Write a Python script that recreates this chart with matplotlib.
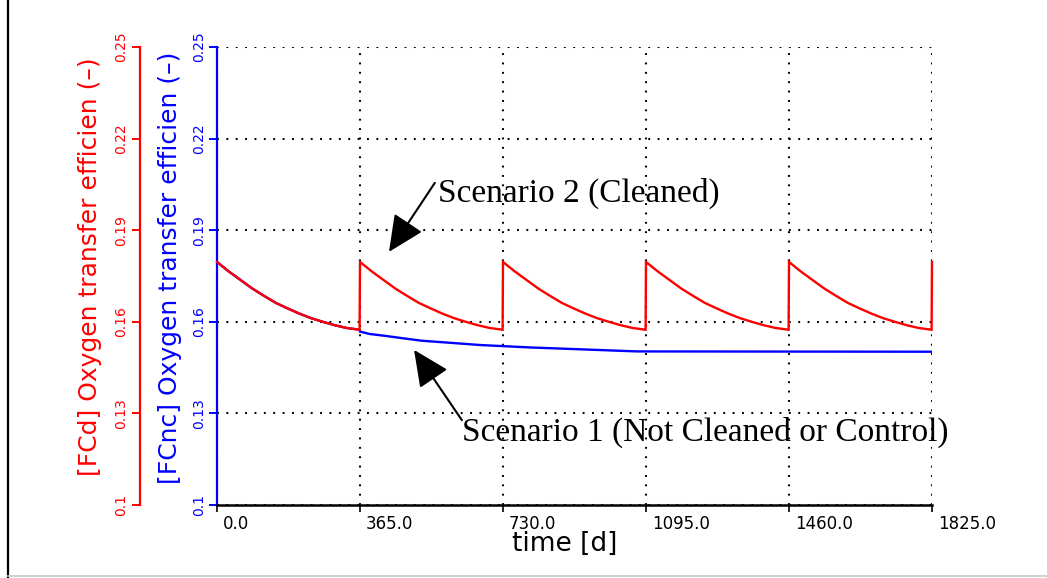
import matplotlib
matplotlib.use("Agg")
import matplotlib.pyplot as plt
from matplotlib.lines import Line2D
import matplotlib.transforms as mtransforms
import numpy as np

# ---------------- data ----------------
# one cleaning cycle of Scenario 2 (days after cleaning, efficiency)
cycle_offset_days = [0, 30, 60, 90, 120, 150, 180, 210, 240, 270, 300, 330, 364]
cycle_values = [0.1796, 0.1765, 0.1737, 0.1709, 0.1685, 0.1662, 0.1644,
                0.1627, 0.1612, 0.1600, 0.1589, 0.1580, 0.1574]
cleaning_days = [0, 365, 730, 1095, 1460]
final_day = 1825
final_value = 0.1796

# Scenario 1 after the first year (before that it coincides with Scenario 2)
control_days_after = [365, 390, 429, 475, 523, 587, 671, 799, 1072, 1825]
control_values_after = [0.1568, 0.1560, 0.1554, 0.1546, 0.1538, 0.1532,
                        0.1524, 0.1516, 0.1503, 0.1502]

x_ticks = [0, 365, 730, 1095, 1460, 1825]
x_tick_labels = ["0.0", "365.0", "730.0", "1095.0", "1460.0", "1825.0"]
y_ticks = [0.10, 0.13, 0.16, 0.19, 0.22, 0.25]
y_tick_labels = ["0.1", "0.13", "0.16", "0.19", "0.22", "0.25"]

red_label = "[FCd] Oxygen transfer efficien (\u2013)"
blue_label = "[FCnc] Oxygen transfer efficien (\u2013)"
x_label = "time [d]"
ann2_text = "Scenario 2 (Cleaned)"
ann1_text = "Scenario 1 (Not Cleaned or Control)"

# ---------------- build series ----------------
cleaned_x, cleaned_y = [], []
for c in cleaning_days:
    for off, v in zip(cycle_offset_days, cycle_values):
        cleaned_x.append(c + off)
        cleaned_y.append(v)
cleaned_x.append(final_day)
cleaned_y.append(final_value)

control_x = list(cycle_offset_days) + control_days_after
control_y = list(cycle_values) + control_values_after

# ---------------- figure ----------------
W, H = 1047, 578
fig = plt.figure(figsize=(W / 100, H / 100), dpi=100)
L, R, T, B = 217, 932, 47, 505
ax = fig.add_axes([L / W, 1 - B / H, (R - L) / W, (B - T) / H])

ax.set_xlim(0, 1825)
ax.set_ylim(0.10, 0.25)

ax.plot(control_x, control_y, color="#0000ff", lw=1.7, zorder=3,
        solid_joinstyle="miter")
ax.plot(cleaned_x, cleaned_y, color="#ff0000", lw=1.7, zorder=4,
        clip_on=False, solid_joinstyle="miter")

# grid
ax.set_xticks(x_ticks)
ax.set_xticklabels(x_tick_labels)
ax.set_yticks(y_ticks)
ax.set_yticklabels(y_tick_labels)
ax.grid(True, color="black", linestyle=(0, (0.9, 3.6)), linewidth=1.5)
ax.set_axisbelow(True)

for s in ["top", "right"]:
    ax.spines[s].set_visible(False)
ax.spines["bottom"].set_color("black")
ax.spines["bottom"].set_linewidth(1.8)
ax.spines["left"].set_color("#0000ff")
ax.spines["left"].set_linewidth(1.6)

ax.tick_params(axis="x", direction="out", length=5, width=1.2, colors="black",
               labelsize=12, pad=2)
for lab in ax.get_xticklabels():
    lab.set_horizontalalignment("left")
    lab.set_transform(lab.get_transform() +
                      mtransforms.ScaledTranslation(6 / 100, 0, fig.dpi_scale_trans))

ax.tick_params(axis="y", direction="out", length=6, width=1.4, colors="#0000ff",
               labelsize=10, pad=1.5)
for lab in ax.get_yticklabels():
    lab.set_rotation(90)
    lab.set_verticalalignment("center")
    lab.set_horizontalalignment("right")

# red axis
ax2 = ax.twinx()
ax2.set_ylim(0.10, 0.25)
ax2.yaxis.set_ticks_position("left")
ax2.yaxis.set_label_position("left")
for s in ["top", "right", "bottom"]:
    ax2.spines[s].set_visible(False)
ax2.spines["left"].set_visible(True)
ax2.spines["left"].set_position(("outward", 77 * 0.72))
ax2.spines["left"].set_color("#ff0000")
ax2.spines["left"].set_linewidth(1.6)
ax2.set_yticks(y_ticks)
ax2.set_yticklabels(y_tick_labels)
ax2.tick_params(axis="y", direction="out", length=6, width=1.4, colors="#ff0000",
                labelsize=10, pad=2.5)
for lab in ax2.get_yticklabels():
    lab.set_rotation(90)
    lab.set_verticalalignment("center")
    lab.set_horizontalalignment("right")

# axis labels
fig.text(90 / W, 1 - 267 / H, red_label, rotation=90, color="#ff0000",
         fontsize=18, ha="center", va="center")
fig.text(170 / W, 1 - 268 / H, blue_label, rotation=90, color="#0000ff",
         fontsize=18, ha="center", va="center")
fig.text(565 / W, 1 - 544 / H, x_label, color="black", fontsize=19,
         ha="center", va="center")

# annotations
serif = "Liberation Serif"
arrow_style = "-|>,head_length=1.5,head_width=0.7"
ax.text(564, 0.1992, ann2_text, family=serif, fontsize=24, color="black",
        ha="left", va="baseline", zorder=6, clip_on=False)
ax.annotate("", xy=(439, 0.1829), xytext=(556, 0.2055),
            arrowprops=dict(arrowstyle=arrow_style,
                            mutation_scale=15, color="black", lw=1.5,
                            shrinkA=0, shrinkB=0), zorder=6)
ax.text(625, 0.1210, ann1_text, family=serif, fontsize=24, color="black",
        ha="left", va="baseline", zorder=6, clip_on=False)
ax.annotate("", xy=(503, 0.1508), xytext=(625, 0.1278),
            arrowprops=dict(arrowstyle=arrow_style,
                            mutation_scale=15, color="black", lw=1.5,
                            shrinkA=0, shrinkB=0), zorder=6)

# frame decorations
fig.add_artist(Line2D([8 / W, 8 / W], [0, 1], color="black", lw=1.6,
                      transform=fig.transFigure))
fig.add_artist(Line2D([8 / W, 1], [1 - 576 / H, 1 - 576 / H], color="#c8c8c8",
                      lw=1.2, transform=fig.transFigure))

fig.savefig("out.png", dpi=100, facecolor="white")
